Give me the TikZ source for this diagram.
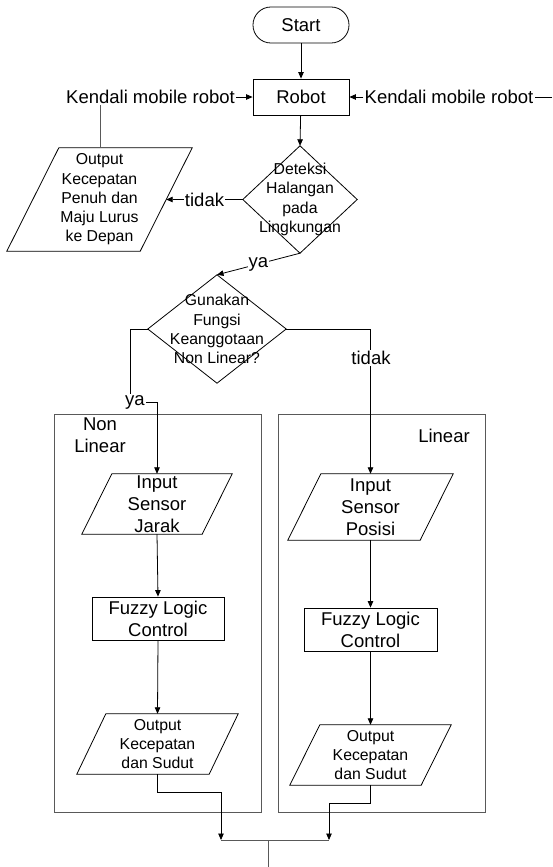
\documentclass[tikz,border=0pt]{standalone}
\usepackage{fontspec}
\setmainfont{Liberation Sans}
\usetikzlibrary{arrows.meta}
\newcommand\bigtxt{\fontsize{18.5}{22}\selectfont}
\newcommand\smalltxt{\fontsize{15.8}{19.3}\selectfont}
\newcommand\drawpara[2]{\draw[ln] ([xshift=#2]#1.north west) -- (#1.north east) -- ([xshift=-#2]#1.south east) -- (#1.south west) -- cycle;}
\newcommand\drawdiam[1]{\draw[ln] (#1.north) -- (#1.east) -- (#1.south) -- (#1.west) -- cycle;}
\tikzset{
  ln/.style={line width=0.8pt, black},
  gln/.style={line width=0.8pt, black!65},
  arr/.style={ln, -{Triangle[length=6.5pt,width=5.5pt]}},
  rbox/.style={draw, line width=0.8pt, inner sep=0pt, align=center, font=\bigtxt},
  shp/.style={inner sep=0pt, align=center},
  frame/.style={draw=black!65, line width=0.8pt, inner sep=0pt},
  lbl/.style={inner sep=1pt, font=\bigtxt, fill=white},
}
\begin{document}
\begin{tikzpicture}[x=1pt, y=-1pt]
\useasboundingbox (0,0) rectangle (552,867);

% containers
\node[frame, minimum width=207pt, minimum height=398pt] (boxL) at (157.5,613) {};
\node[frame, minimum width=207pt, minimum height=398pt] (boxR) at (381.5,613) {};
\node[shp, font=\bigtxt] (tNL) at (100,435.5) {Non\\Linear};
\node[shp, font=\bigtxt] (tL) at (444,436) {Linear};

% main nodes
\node[rbox, rounded corners=17.9pt, minimum width=96pt, minimum height=36pt] (start) at (301,25) {Start};
\node[rbox, minimum width=96pt, minimum height=36pt] (robot) at (301,97) {Robot};
\node[shp, font=\smalltxt, minimum width=114pt, minimum height=107pt] (d1) at (300,199.5) {Deteksi\\Halangan\\pada\\Lingkungan};
\drawdiam{d1}
\node[shp, font=\smalltxt, minimum width=185pt, minimum height=103pt] (p0) at (99.5,199.5) {Output\\Kecepatan\\Penuh dan\\Maju Lurus\\ke Depan};
\drawpara{p0}{52pt}
\node[shp, font=\smalltxt, minimum width=138pt, minimum height=108pt] (d2) at (217,329) {Gunakan\\Fungsi\\Keanggotaan\\Non Linear?};
\drawdiam{d2}

% left branch
\node[shp, font=\bigtxt, minimum width=150pt, minimum height=60pt] (p1) at (157,504) {Input\\Sensor\\Jarak};
\drawpara{p1}{30pt}
\node[rbox, minimum width=132pt, minimum height=43pt] (fl) at (158,618.5) {Fuzzy Logic\\Control};
\node[shp, font=\smalltxt, minimum width=161pt, minimum height=60pt] (p3) at (157.5,744) {Output\\Kecepatan\\dan Sudut};
\drawpara{p3}{29pt}

% right branch
\node[shp, font=\bigtxt, minimum width=165pt, minimum height=66pt] (p2) at (370.5,507) {Input\\Sensor\\Posisi};
\drawpara{p2}{33pt}
\node[rbox, minimum width=133pt, minimum height=43pt] (fr) at (370.5,629.5) {Fuzzy Logic\\Control};
\node[shp, font=\smalltxt, minimum width=161pt, minimum height=60pt] (p4) at (370.5,755) {Output\\Kecepatan\\dan Sudut};
\drawpara{p4}{30pt}

% side labels
\node[inner sep=1pt, font=\bigtxt] (kl) at (150.5,97) {Kendali mobile robot};
\node[inner sep=1pt, font=\bigtxt] (kr) at (449,97) {Kendali mobile robot};
\coordinate (rend) at (552,97);

% coordinates for bends
\coordinate (p0e) at ([xshift=-26pt]p0.east);
\coordinate (p0top) at (100,148);
\coordinate (cL) at (130,402);
\coordinate (mL) at (221,792);
\coordinate (jL) at (221,840);
\coordinate (mR) at (329,803);
\coordinate (jR) at (329,840);
\coordinate (jM) at (268,840);
\coordinate (fin) at (268,867);

% connectors
\draw[arr] (start) -- (robot);
\draw[arr] (robot) -- (d1.north);
\draw[arr] (kl) -- (robot);
\draw[ln] (rend) -- (kr);
\draw[arr] (kr) -- (robot);
\draw[gln] (p0top) -- (p0top |- kl.south);
\draw[arr] (d1.west) -- (p0e) node[lbl, midway] {tidak};
\draw[arr] (d1.south) -- (d2.north) node[lbl, midway] {ya};
\draw[arr] (d2.west) -| (cL) -| (p1.north);
\node[lbl] at (135,402) {ya};
\draw[arr] (d2.east) -| (p2.north);
\node[lbl] at (371,358) {tidak};
\draw[arr] (p1.south) -- (fl.north);
\draw[arr] (fl.south) -- (p3.north);
\draw[arr] (p2.south) -- (fr.north);
\draw[arr] (fr.south) -- (p4.north);
\draw[arr] (p3.south) |- (mL) -- (jL);
\draw[arr] (p4.south) |- (mR) -- (jR);
\draw[gln] (jL) -- (jR);
\draw[gln] (jM) -- (fin);
\end{tikzpicture}
\end{document}
